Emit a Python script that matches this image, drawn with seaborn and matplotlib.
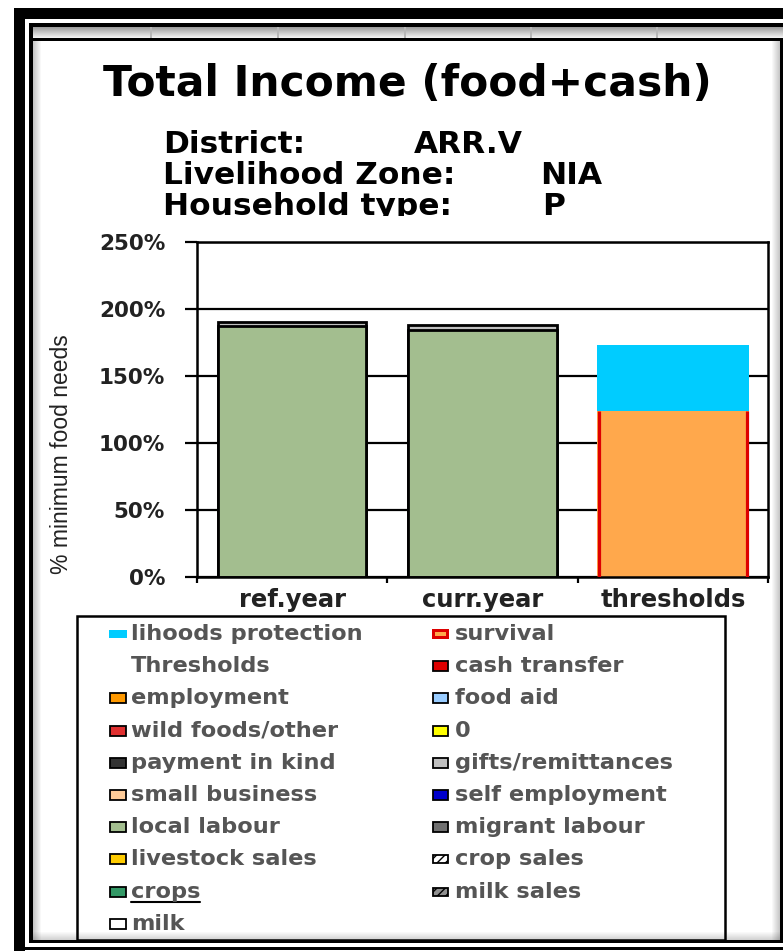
import matplotlib as mpl
mpl.use('Agg')

import numpy as np
import seaborn as sns
import matplotlib.pyplot as plt
from matplotlib.patches import Rectangle
from matplotlib.lines import Line2D

# data (% of minimum food needs)
categories = ["ref.year", "curr.year", "thresholds"]
years = ["ref.year", "curr.year"]
local_labour = [187.0, 184.5]
gifts_remittances = [3.5, 3.5]
survival = [124.0]
livelihoods_protection = [49.0]
yticks = [0, 50, 100, 150, 200, 250]

left_labels = ["lihoods protection", "employment", "wild foods/other", "payment in kind",
               "small business", "local labour", "livestock sales", "crops", "milk"]
left_colors = ["#00CCFF", "#FF9900", "#E03030", "#333333", "#FFCC99", "#A3BE8F",
               "#FFCC00", "#339966", "#FFFFFF"]
left_rows = [0, 2, 3, 4, 5, 6, 7, 8, 9]
right_labels = ["survival", "cash transfer", "food aid", "0", "gifts/remittances",
                "self employment", "migrant labour", "crop sales", "milk sales"]
right_colors = ["#FFA84C", "#DD0000", "#99CCFF", "#FFFF00", "#C0C0C0", "#0000CC",
                "#707070", "#FFFFFF", "#909090"]

W, H = 783, 951
sns.set_style("white")
fig = plt.figure(figsize=(W / 100, H / 100), dpi=100)
fig.patch.set_facecolor("white")


def box(x0, y0, x1, y1, **kw):
    # rectangle in pixel coords (origin top-left)
    r = Rectangle((x0 / W, 1 - y1 / H), (x1 - x0) / W, (y1 - y0) / H,
                  transform=fig.transFigure, **kw)
    fig.add_artist(r)
    return r


# ---- window frame (screenshot border) ----
box(14, 8, 25, 951, color="black", lw=0)
box(14, 8, 783, 19, color="black", lw=0)
box(29, 23, 783, 27, color="black", lw=0)
for k in range(11):
    g = 0.62 + 0.033 * k
    box(33, 27 + k, 783, 28 + k, color=(g, g, g), lw=0)
for sx in [150, 277, 404, 530, 656]:
    box(sx, 27, sx + 2, 38, color="#B8B8B8", lw=0)
box(29, 38, 783, 41, color="black", lw=0)
box(29, 23, 33, 943, color="black", lw=0)
box(780, 38, 783, 943, color="black", lw=0)
box(29, 940, 783, 943, color="black", lw=0)
box(25, 947, 783, 950, color="black", lw=0)
for k in range(8):
    a = 0.22 * (1 - k / 8)
    box(33 + k, 41, 34 + k, 940, color="black", alpha=a, lw=0)
    box(779 - k, 41, 780 - k, 940, color="black", alpha=a, lw=0)
    box(33, 939 - k, 780, 940 - k, color="black", alpha=a * 0.8, lw=0)

# ---- titles ----
fig.text(407 / W, 1 - 84 / H, "Total Income (food+cash)", ha="center", va="center",
         family="DejaVu Sans", weight="bold", size=30.5, color="black")
sub = [("District:", "ARR.V", 414, 153), ("Livelihood Zone:", "NIA", 540, 184),
       ("Household type:", "P", 542, 215)]
clip = Rectangle((0, 1 - 216 / H), 1, 216 / H, transform=fig.transFigure)
for lab, val, vx, by in sub:
    for s, x in [(lab, 163), (val, vx)]:
        t = fig.text(x / W, 1 - by / H, s, ha="left", va="baseline",
                     family="DejaVu Sans", weight="bold", size=22.5, color="black")
        t.set_clip_path(clip)

# ---- chart ----
ax = fig.add_axes([197 / W, 1 - 577 / H, (768 - 197) / W, (577 - 242) / H])
totals = [a + b for a, b in zip(local_labour, gifts_remittances)]
sns.barplot(x=years, y=totals, order=categories, color="#C0C0C0", saturation=1,
            edgecolor="black", linewidth=2, width=0.78, errorbar=None, ax=ax)
sns.barplot(x=years, y=local_labour, order=categories, color="#A3BE8F", saturation=1,
            edgecolor="black", linewidth=2, width=0.78, errorbar=None, ax=ax)
thr_total = [survival[0] + livelihoods_protection[0]]
sns.barplot(x=["thresholds"], y=thr_total, order=categories, color="#00CCFF",
            saturation=1, linewidth=0, width=0.8, errorbar=None, ax=ax)
sns.barplot(x=["thresholds"], y=survival, order=categories, color="#FFA84C",
            saturation=1, linewidth=0, width=0.8, errorbar=None, ax=ax)
p = ax.patches[-1]
ax.vlines([p.get_x() + 0.01, p.get_x() + p.get_width() - 0.01], 0, survival[0],
          color="#DD0000", lw=2.3, zorder=3)

ax.set_xlim(-0.5, 2.5)
ax.set_ylim(0, 250)
ax.set_yticks(yticks)
ax.set_yticklabels([f"{v}%" for v in yticks], family="DejaVu Sans", weight="bold",
                   size=15.5, color="#222222")
ax.set_xticks([0, 1, 2])
ax.set_xticklabels(categories, family="DejaVu Sans", weight="bold", size=17.5,
                   color="#222222")
ax.set_xticks([-0.5, 0.5, 1.5, 2.5], minor=True)
ax.tick_params(axis="y", left=True, direction="out", length=9, width=1.6, pad=14,
               color="black")
ax.tick_params(axis="x", which="major", length=0, pad=8)
ax.tick_params(axis="x", which="minor", bottom=True, direction="out", length=4,
               width=1.6, color="black")
ax.set_xlabel("")
ax.set_ylabel("")
ax.yaxis.grid(True, color="black", lw=1.6)
ax.set_axisbelow(True)
for sp in ax.spines.values():
    sp.set_visible(True)
    sp.set_color("black")
    sp.set_linewidth(1.8)

fig.text(62 / W, 1 - 454 / H, "% minimum food needs", rotation=90, ha="center",
         va="center", family="Liberation Sans", size=16.5, color="#222222")

# ---- legend ----
box(77, 616, 725, 940, fill=False, edgecolor="black", lw=1.8)
row_y = lambda r: 634 + 32.2 * r
lkw = dict(family="DejaVu Sans", weight="bold", size=16.2, color="#555555",
           ha="left", va="center")
crop_txt = None
for lab, col, r in zip(left_labels, left_colors, left_rows):
    y = row_y(r)
    if r == 0:
        box(109, y - 4, 127, y + 4, color=col, lw=0)
    else:
        box(110, y - 5, 126, y + 5, facecolor=col, edgecolor="black", lw=1.3)
    t = fig.text(131 / W, 1 - y / H, lab, **lkw)
    if lab == "crops":
        crop_txt = t
fig.text(131 / W, 1 - row_y(1) / H, "Thresholds", **lkw)

for i, (lab, col) in enumerate(zip(right_labels, right_colors)):
    y = row_y(i)
    if lab == "survival":
        box(432, y - 5, 449, y + 5, color="#DD0000", lw=0)
        box(435, y - 2, 446, y + 2, color=col, lw=0)
    elif lab in ("crop sales", "milk sales"):
        box(433, y - 4, 448, y + 4, facecolor=col, edgecolor="black", lw=1.3,
            hatch="////")
    else:
        box(433, y - 5, 448, y + 5, facecolor=col, edgecolor="black", lw=1.3)
    fig.text(455 / W, 1 - y / H, lab, **lkw)

# underline "crops"
fig.canvas.draw()
bb = crop_txt.get_window_extent(fig.canvas.get_renderer())
uy = 1 - (row_y(8) + 10) / H
fig.add_artist(Line2D([bb.x0 / W, bb.x1 / W], [uy, uy], transform=fig.transFigure,
                      color="black", lw=1.5))

fig.savefig("out.png", dpi=100)
